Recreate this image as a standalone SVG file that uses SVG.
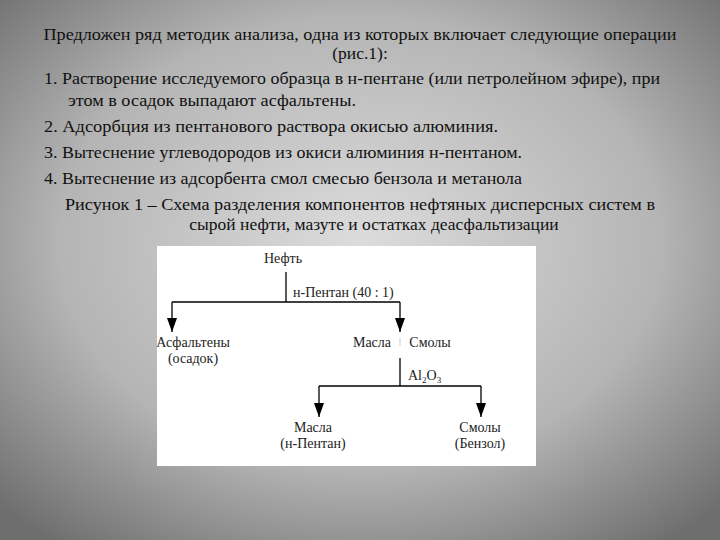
<svg xmlns="http://www.w3.org/2000/svg" width="720" height="540" viewBox="0 0 720 540">
<defs>
<radialGradient id="bg" cx="50%" cy="45%" r="70%">
<stop offset="0" stop-color="#dcdcdc"/><stop offset="0.6" stop-color="#b4b4b4"/><stop offset="1" stop-color="#6e6e6e"/>
</radialGradient>
<marker id="ar" markerWidth="14" markerHeight="10" refX="14" refY="5" orient="auto" markerUnits="userSpaceOnUse" viewBox="0 0 14 10">
<path d="M0,0 L14,5 L0,10 Z" fill="#000"/>
</marker>
<style>
.t{font-family:'Liberation Serif','DejaVu Serif',serif;font-size:17.5px;fill:#111}
.d{font-family:'Liberation Serif','DejaVu Serif',serif;font-size:14px;fill:#222}
.c{stroke:#000;stroke-width:1.3;fill:none}
</style>
</defs>
<rect width="720" height="540" fill="url(#bg)"/>
<text class="t" x="360" y="40" text-anchor="middle" textLength="633" lengthAdjust="spacingAndGlyphs">Предложен ряд методик анализа, одна из которых включает следующие операции</text>
<text class="t" x="360" y="59" text-anchor="middle">(рис.1):</text>
<text class="t" x="44" y="84" textLength="616" lengthAdjust="spacingAndGlyphs">1. Растворение исследуемого образца в н-пентане (или петролейном эфире), при</text>
<text class="t" x="68" y="106" textLength="288" lengthAdjust="spacingAndGlyphs">этом в осадок выпадают асфальтены.</text>
<text class="t" x="44" y="132" textLength="454" lengthAdjust="spacingAndGlyphs">2. Адсорбция из пентанового раствора окисью алюминия.</text>
<text class="t" x="44" y="158" textLength="478" lengthAdjust="spacingAndGlyphs">3. Вытеснение углеводородов из окиси алюминия н-пентаном.</text>
<text class="t" x="44" y="184" textLength="478" lengthAdjust="spacingAndGlyphs">4. Вытеснение из адсорбента смол смесью бензола и метанола</text>
<text class="t" x="360" y="210" text-anchor="middle" textLength="590" lengthAdjust="spacingAndGlyphs">Рисунок 1 – Схема разделения компонентов нефтяных дисперсных систем в</text>
<text class="t" x="374" y="230" text-anchor="middle">сырой нефти, мазуте и остатках деасфальтизации</text>
<rect x="157" y="246" width="379" height="220" fill="#fff"/>
<g id="connectors">
<path class="c" d="M286,272 V302"/>
<path class="c" d="M172,302 H400"/>
<path class="c" d="M172,302 V332" marker-end="url(#ar)"/>
<path class="c" d="M400,302 V332" marker-end="url(#ar)"/>
<path class="c" d="M400,358 V386"/>
<path class="c" d="M319,386 H481"/>
<path class="c" d="M319,386 V417" marker-end="url(#ar)"/>
<path class="c" d="M481,386 V417" marker-end="url(#ar)"/>
<path d="M400,338 V346" stroke="#ccc" stroke-width="1"/>
<text class="d" x="293" y="297">н-Пентан (40 : 1)</text>
<text class="d" x="408" y="380">Al<tspan font-size="9" dy="3">2</tspan><tspan dy="-3">O</tspan><tspan font-size="9" dy="3">3</tspan></text>
</g>
<g id="n1"><text class="d" x="283" y="263" text-anchor="middle">Нефть</text></g>
<g id="n2"><text class="d" x="193" y="347" text-anchor="middle">Асфальтены</text><text class="d" x="193" y="363" text-anchor="middle">(осадок)</text></g>
<g id="n3"><text class="d" x="372" y="347" text-anchor="middle">Масла</text><text class="d" x="430" y="347" text-anchor="middle">Смолы</text></g>
<g id="n4"><text class="d" x="313" y="432" text-anchor="middle">Масла</text><text class="d" x="313" y="448" text-anchor="middle">(н-Пентан)</text></g>
<g id="n5"><text class="d" x="480" y="432" text-anchor="middle">Смолы</text><text class="d" x="480" y="448" text-anchor="middle">(Бензол)</text></g>
</svg>
